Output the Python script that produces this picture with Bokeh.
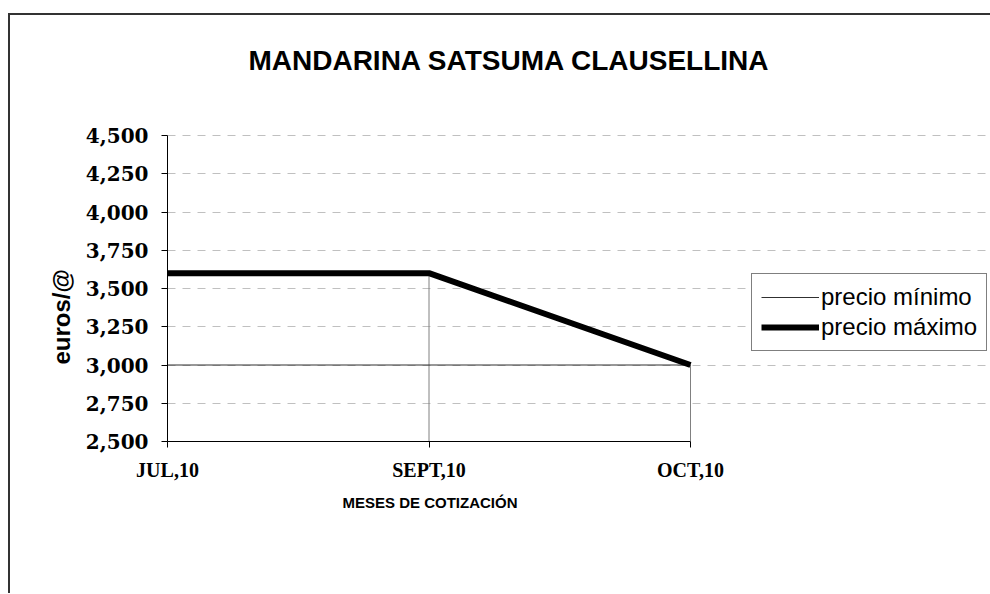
from bokeh.plotting import figure
from bokeh.models import (Range1d, FixedTicker, Legend, LegendItem, Title, Label)
from bokeh.embed import file_html
from bokeh.resources import INLINE

# ---- data ----
months = ["JUL,10", "SEPT,10", "OCT,10"]
precio_minimo = [3.0, 3.0, 3.0]
precio_maximo = [3.6, 3.6, 3.0]
y_ticks = [2.5, 2.75, 3.0, 3.25, 3.5, 3.75, 4.0, 4.25, 4.5]
y_tick_labels = ["2,500", "2,750", "3,000", "3,250", "3,500", "3,750", "4,000", "4,250", "4,500"]
title_text = "MANDARINA SATSUMA CLAUSELLINA"
x_title = "MESES DE COTIZACIÓN"
y_title = "euros/@"

xs = list(range(len(months)))
y_min, y_max = y_ticks[0], y_ticks[-1]

# layout geometry (pixels)
W, H = 982, 580
frame_left, frame_bottom_gap, frame_top_gap = 157, 154, 2
plot_w_px = 523          # width between first and last category
plot_h_px = 306          # height between y_min and y_max
frame_w = W - frame_left
frame_h = H - frame_bottom_gap - frame_top_gap
x_end = xs[0] + (xs[-1] - xs[0]) * frame_w / plot_w_px
y_end = y_min + (y_max - y_min) * frame_h / plot_h_px

p = figure(width=W, height=H, output_backend="svg", toolbar_location=None,
           x_range=Range1d(xs[0], x_end), y_range=Range1d(y_min, y_end),
           min_border_left=frame_left, min_border_right=0,
           min_border_top=frame_top_gap, min_border_bottom=frame_bottom_gap)
p.styles = {"margin-left": "8px", "margin-top": "13px",
            "border-left": "2px solid #333", "border-top": "2px solid #333"}
p.outline_line_color = None
p.background_fill_color = "white"
p.border_fill_color = "white"

# grid
p.xgrid.visible = False
p.ygrid.ticker = FixedTicker(ticks=y_ticks)
p.ygrid.bounds = (xs[0], xs[-1])
p.ygrid.grid_line_color = "#c0c0c0"
p.ygrid.grid_line_dash = "8 7"

# axes
p.yaxis.ticker = FixedTicker(ticks=y_ticks)
p.yaxis.bounds = (y_min, y_max)
p.yaxis.major_label_overrides = {t: l for t, l in zip(y_ticks, y_tick_labels)}
p.yaxis.major_label_text_font = "DejaVu Serif"
p.yaxis.major_label_text_font_style = "bold"
p.yaxis.major_label_text_font_size = "20px"
p.yaxis.major_label_text_color = "black"
p.yaxis.major_tick_out = 6
p.yaxis.major_tick_in = 0
p.yaxis.minor_tick_line_color = None
p.yaxis.major_label_standoff = 13
p.yaxis.axis_line_color = "black"
p.yaxis.major_tick_line_color = "black"

p.xaxis.ticker = FixedTicker(ticks=xs)
p.xaxis.bounds = (xs[0], xs[-1])
p.xaxis.major_label_overrides = {i: m for i, m in zip(xs, months)}
p.xaxis.major_label_text_font = "Liberation Serif"
p.xaxis.major_label_text_font_style = "bold"
p.xaxis.major_label_text_font_size = "20px"
p.xaxis.major_label_text_color = "black"
p.xaxis.major_tick_out = 6
p.xaxis.major_tick_in = 0
p.xaxis.minor_tick_line_color = None
p.xaxis.major_label_standoff = 11
p.xaxis.axis_line_color = "black"
p.xaxis.major_tick_line_color = "black"

# drop lines
p.segment(x0=xs, y0=precio_maximo, x1=xs, y1=[y_min] * len(xs),
          line_color="#808080", line_width=1)

r_min = p.line(xs, precio_minimo, line_color="#303030", line_width=1)
r_max = p.line(xs, precio_maximo, line_color="black", line_width=6)

legend = Legend(items=[LegendItem(label="precio mínimo", renderers=[r_min]),
                       LegendItem(label="precio máximo", renderers=[r_max])],
                location=(584, 90))
legend.label_text_font = "Liberation Sans"
legend.label_text_font_size = "24px"
legend.label_text_color = "black"
legend.glyph_width = 58
legend.glyph_height = 28
legend.label_standoff = 2
legend.spacing = 2
legend.padding = 9
legend.margin = 0
legend.border_line_color = "black"
legend.border_line_width = 1
legend.background_fill_alpha = 1
p.add_layout(legend, "center")

# chart title (inside the extended frame)
p.add_layout(Label(x=342, y=381, x_units="screen", y_units="screen",
                   text=title_text, text_font="Liberation Sans",
                   text_font_style="bold", text_font_size="28px",
                   text_color="black", text_align="center",
                   text_baseline="middle"))

# axis titles
yl = Title(text=y_title, text_font="Liberation Sans", text_font_style="bold",
           text_font_size="24px", text_color="black", align="left", offset=77,
           standoff=16)
p.add_layout(yl, "left")

xl = Title(text=x_title, text_font="Liberation Sans", text_font_style="bold",
           text_font_size="15px", text_color="black", align="left", offset=175,
           standoff=16)
p.add_layout(xl, "below")

open("out.html", "w").write(file_html(p, INLINE))
